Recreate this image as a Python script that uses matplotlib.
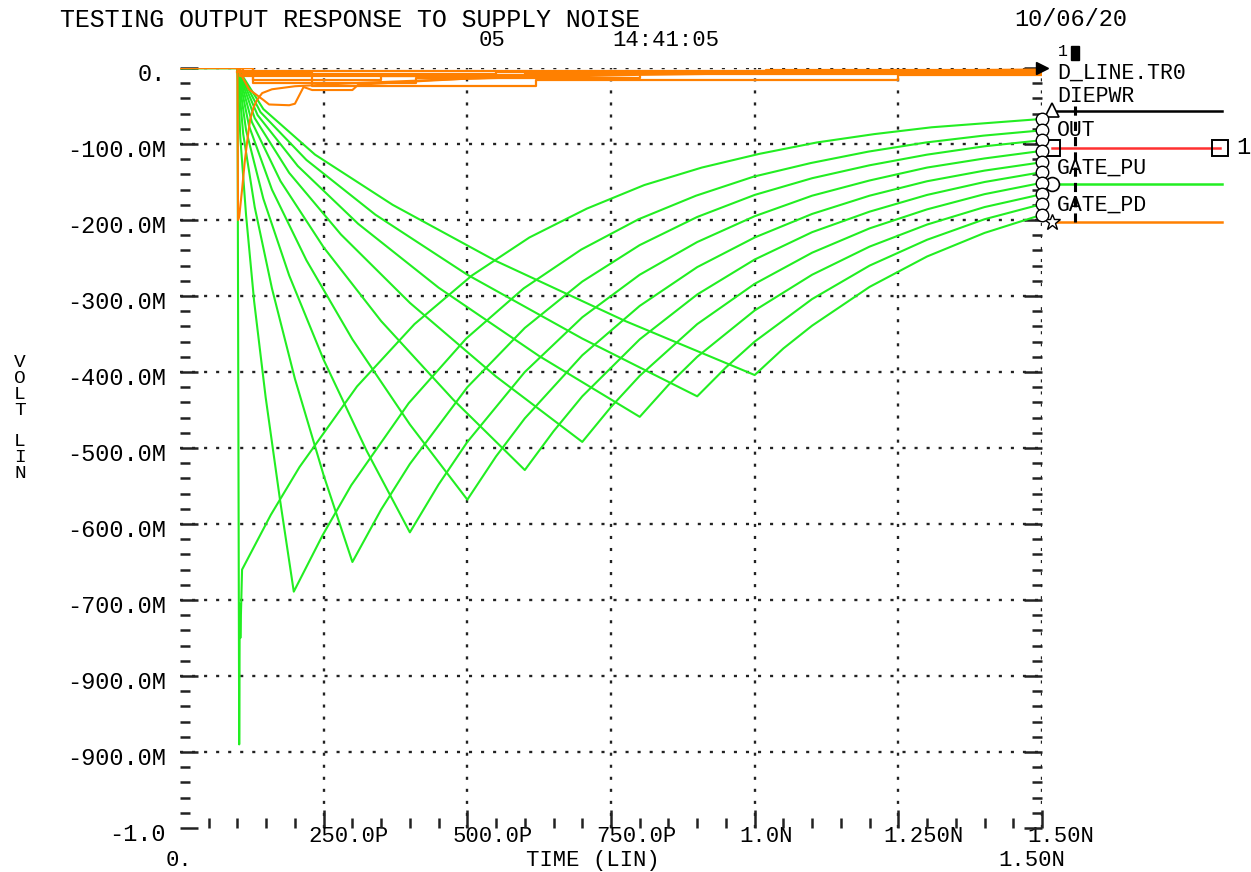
import matplotlib
matplotlib.use("Agg")
import matplotlib.pyplot as plt
from matplotlib.ticker import FixedLocator, MultipleLocator
from matplotlib.transforms import ScaledTranslation
from matplotlib.patches import Rectangle

# HSPICE-style transient plot: output response to supply noise

plt.rcParams["font.family"] = ["Liberation Mono", "DejaVu Sans Mono"]

GREEN = "#22ee22"
ORANGE = "#ff8000"
RED = "#ff3030"
GRID = "#222222"

# GATE_PU sweep, time in ns, volts in mV (one list per edge rate)
PU_TIMES = [
    [0, 0.100, 0.103, 0.104, 0.105, 0.108, 0.158, 0.208, 0.308, 0.408, 0.508, 0.608, 0.708, 0.808, 0.908, 1.008, 1.108, 1.208, 1.308, 1.5],
    [0, 0.1, 0.105, 0.115, 0.129, 0.149, 0.174, 0.198, 0.248, 0.298, 0.398, 0.498, 0.598, 0.698, 0.798, 0.898, 0.998, 1.098, 1.198, 1.298, 1.398, 1.5],
    [0, 0.1, 0.11, 0.13, 0.16, 0.2, 0.25, 0.3, 0.35, 0.4, 0.5, 0.6, 0.7, 0.8, 0.9, 1.0, 1.1, 1.2, 1.3, 1.4, 1.5],
    [0, 0.1, 0.115, 0.145, 0.19, 0.25, 0.325, 0.4, 0.45, 0.5, 0.6, 0.7, 0.8, 0.9, 1.0, 1.1, 1.2, 1.3, 1.4, 1.5],
    [0, 0.1, 0.12, 0.16, 0.22, 0.3, 0.4, 0.5, 0.55, 0.6, 0.7, 0.8, 0.9, 1.0, 1.1, 1.2, 1.3, 1.4, 1.5],
    [0, 0.1, 0.125, 0.175, 0.25, 0.35, 0.475, 0.6, 0.65, 0.7, 0.8, 0.9, 1.0, 1.1, 1.2, 1.3, 1.4, 1.5],
    [0, 0.1, 0.13, 0.19, 0.28, 0.4, 0.55, 0.7, 0.75, 0.8, 0.9, 1.0, 1.1, 1.2, 1.3, 1.4, 1.5],
    [0, 0.1, 0.135, 0.205, 0.31, 0.45, 0.625, 0.8, 0.85, 0.9, 1.0, 1.1, 1.2, 1.3, 1.4, 1.5],
    [0, 0.1, 0.14, 0.22, 0.34, 0.5, 0.7, 0.9, 0.95, 1.0, 1.1, 1.2, 1.3, 1.4, 1.5],
    [0, 0.1, 0.145, 0.235, 0.37, 0.55, 0.775, 1.0, 1.05, 1.1, 1.2, 1.3, 1.4, 1.5],
]
PU_VOLTS = [
    [0, 0, -890, -705, -750, -660, -588, -525, -419, -337, -273, -223, -185, -154, -131, -113, -98, -87, -78, -67],
    [0, 0, -92, -194, -307, -433, -568, -689, -615, -549, -441, -356, -290, -239, -199, -168, -143, -125, -110, -98, -89, -82],
    [0, 0, -87, -183, -290, -409, -536, -650, -581, -521, -420, -342, -281, -233, -196, -167, -145, -128, -114, -103, -95],
    [0, 0, -82, -172, -273, -384, -504, -611, -548, -492, -400, -328, -272, -229, -195, -168, -148, -131, -119, -109],
    [0, 0, -76, -160, -253, -357, -469, -568, -511, -461, -378, -313, -262, -223, -192, -168, -149, -135, -124],
    [0, 0, -71, -149, -236, -333, -436, -529, -478, -432, -357, -298, -252, -216, -189, -167, -150, -137],
    [0, 0, -66, -138, -219, -309, -406, -492, -446, -405, -337, -284, -243, -211, -186, -166, -151],
    [0, 0, -62, -129, -205, -289, -379, -459, -417, -380, -319, -272, -235, -206, -183, -166],
    [0, 0, -58, -121, -193, -272, -356, -432, -394, -360, -304, -260, -226, -199, -179],
    [0, 0, -54, -114, -180, -254, -333, -404, -369, -339, -288, -248, -217, -193],
]

# GATE_PD traces: two ringing ones and a few stepped ones near 0 V
PD_RING_TIMES = [
    [0, 0.1, 0.101, 0.103, 0.108, 0.113, 0.118, 0.122, 0.128, 0.134, 0.143, 0.16, 0.2, 0.3, 0.5, 0.8, 1.2, 1.5],
    [0.1, 0.12, 0.145, 0.155, 0.19, 0.2, 0.215, 0.23, 0.3, 0.31, 0.4, 0.5, 0.7, 1.0, 1.5],
]
PD_RING_VOLTS = [
    [0, 0, -200, -196, -160, -121, -90, -68, -52, -42, -33, -28, -24, -20, -14, -9, -5, -3],
    [0, -28, -42, -48, -49, -47, -25, -29, -29, -22, -18, -14, -9, -5, -2],
]
PD_STEP_TIMES = [
    [0.1, 0.127, 0.31, 0.35, 0.5, 0.7, 1.0, 1.5],
    [0.1, 0.127, 0.4, 0.41, 0.75, 0.8, 1.5],
    [0.1, 0.23, 0.61, 0.62, 0.94, 1.25, 1.5],
    [0.1, 0.11, 0.5, 0.55, 1.0, 1.02, 1.5],
    [0.1, 0.105, 0.3, 0.6, 1.5],
    [0, 0.1, 0.105, 1.5],
]
PD_STEP_VOLTS = [
    [0, -16, -16, -10, -9, -7, -4, -2],
    [0, -20, -20, -13, -13, -8, -3],
    [-5, -24, -24, -16, -16, -9, -4],
    [0, -8, -8, -5, -5, -2, -1],
    [0, -11, -10, -6, -2],
    [0, 0, -4, -1],
]

Y_TICKS = [0, -0.1, -0.2, -0.3, -0.4, -0.5, -0.6, -0.7, -0.8, -0.9, -1.0]
Y_LABELS = ["0.", "-100.0M", "-200.0M", "-300.0M", "-400.0M", "-500.0M",
            "-600.0M", "-700.0M", "-900.0M", "-900.0M", "-1.0"]
X_TICKS = [0.25, 0.5, 0.75, 1.0, 1.25, 1.5]
X_LABELS = ["250.0P", "500.0P", "750.0P", "1.0N", "1.250N", "1.50N"]
X_MINOR = [0.05, 0.1, 0.15, 0.2, 0.3, 0.35, 0.4, 0.45, 0.55, 0.6, 0.65, 0.7,
           0.8, 0.85, 0.9, 0.95, 1.05, 1.1, 1.15, 1.2, 1.3, 1.35, 1.4, 1.45]

LEGEND_NAMES = ["D_LINE.TR0", "DIEPWR", "OUT", "GATE_PU", "GATE_PD"]

W, H = 1251, 872
fig = plt.figure(figsize=(W / 100, H / 100), dpi=100)
ax = fig.add_axes([180 / W, 44 / H, 862 / W, 760 / H])
ax.set_xlim(0, 1.5)
ax.set_ylim(-1.0, 0)
for s in ax.spines.values():
    s.set_visible(False)

# dotted grid
grid_style = dict(color=GRID, lw=1.7, linestyle=(0, (1.3, 3.8)), zorder=1)
for yv in Y_TICKS[:-1]:
    ax.plot([0, 1.5], [yv, yv], **grid_style)
for xv in X_TICKS:
    ax.plot([xv, xv], [-1.0, 0], **grid_style)

# curves (mV -> V)
for t, v in zip(PU_TIMES, PU_VOLTS):
    ax.plot(t, [x / 1000 for x in v], color=GREEN, lw=1.5, zorder=3)
for t, v in zip(PD_RING_TIMES, PD_RING_VOLTS):
    ax.plot(t, [x / 1000 for x in v], color=ORANGE, lw=1.5, zorder=4)
for t, v in zip(PD_STEP_TIMES, PD_STEP_VOLTS):
    ax.plot(t, [x / 1000 for x in v], color=ORANGE, lw=1.6, zorder=4,
            drawstyle="steps-post")

# end markers on the right edge
ends = [v[-1] / 1000 for v in PU_VOLTS]
ax.plot([1.5] * len(ends), ends, "o", ms=9, mfc="white", mec="black",
        mew=1, clip_on=False, zorder=6)
ax.plot([1.5], [0], ">", ms=9, color="black", clip_on=False, zorder=6)

# ticks
ax.yaxis.set_major_locator(FixedLocator(Y_TICKS))
ax.yaxis.set_minor_locator(MultipleLocator(0.02))
ax.set_yticklabels(Y_LABELS)
ax.xaxis.set_major_locator(FixedLocator(X_TICKS))
ax.xaxis.set_minor_locator(FixedLocator(X_MINOR))
ax.set_xticklabels(X_LABELS)
ax.tick_params(which="both", direction="in", left=True, right=True,
               bottom=True, top=False, width=1.8, color=GRID)
ax.tick_params(which="major", length=13)
ax.tick_params(which="minor", length=7)
ax.tick_params(axis="y", pad=10, labelsize=17)
ax.tick_params(axis="x", pad=0, labelsize=16)

for lbl in ax.get_yticklabels():
    lbl.set_transform(lbl.get_transform() + ScaledTranslation(0, -0.04, fig.dpi_scale_trans))
for lbl in ax.get_xticklabels():
    lbl.set_horizontalalignment("left")
    lbl.set_transform(lbl.get_transform() + ScaledTranslation(-0.15, 0.02, fig.dpi_scale_trans))

# overlay in pixel coordinates for header, labels and legend
ov = fig.add_axes([0, 0, 1, 1], zorder=-1)
ov.set_xlim(0, W)
ov.set_ylim(H, 0)
ov.axis("off")

ov.text(60, 20, "TESTING OUTPUT RESPONSE TO SUPPLY NOISE", fontsize=17.9,
        ha="left", va="center")
ov.text(492, 41, "05", fontsize=16, ha="center", va="center")
ov.text(612, 41, "14:41:05", fontsize=16, ha="left", va="center")
ov.text(1014, 20, "10/06/20", fontsize=17, ha="left", va="center")

ov.text(20, 418, "V\nO\nL\nT\n\nL\nI\nN", fontsize=14, ha="center",
        va="center", linespacing=0.92)
ov.text(593, 860, "TIME (LIN)", fontsize=16, ha="center", va="center")
ov.text(179, 860, "0.", fontsize=16, ha="center", va="center")
ov.text(1032, 860, "1.50N", fontsize=16, ha="center", va="center")

# legend block
ov.text(1058, 51, "1", fontsize=12, ha="left", va="center")
ov.add_patch(Rectangle((1071, 46), 8, 14, color="black"))
leg_y = [73, 96, 130, 168, 205]
for name, yy in zip(LEGEND_NAMES, leg_y):
    ov.text(1057, yy, name, fontsize=15.5, ha="left", va="center")
ov.plot([1057, 1222], [111, 111], color="black", lw=1.8)
ov.plot([1052, 1220], [148, 148], color=RED, lw=1.8)
ov.plot([1052, 1222], [184, 184], color=GREEN, lw=1.8)
ov.plot([1052, 1222], [222, 222], color=ORANGE, lw=1.8)
ov.plot([1052], [110], "^", ms=10, mfc="white", mec="black", mew=1.2)
ov.plot([1052, 1220], [148, 148], "s", ms=11, mfc="none", mec="black", mew=1.4)
ov.plot([1052], [184], "o", ms=10, mfc="white", mec="black", mew=1.2)
ov.plot([1052], [222], "*", ms=12, mfc="white", mec="black", mew=1.0)
ov.plot([1075, 1075], [106, 222], color="black", lw=2.2, linestyle=(0, (3, 2)))
ov.text(1236, 148, "1", fontsize=17, ha="left", va="center")

fig.savefig("out.png", dpi=100)
